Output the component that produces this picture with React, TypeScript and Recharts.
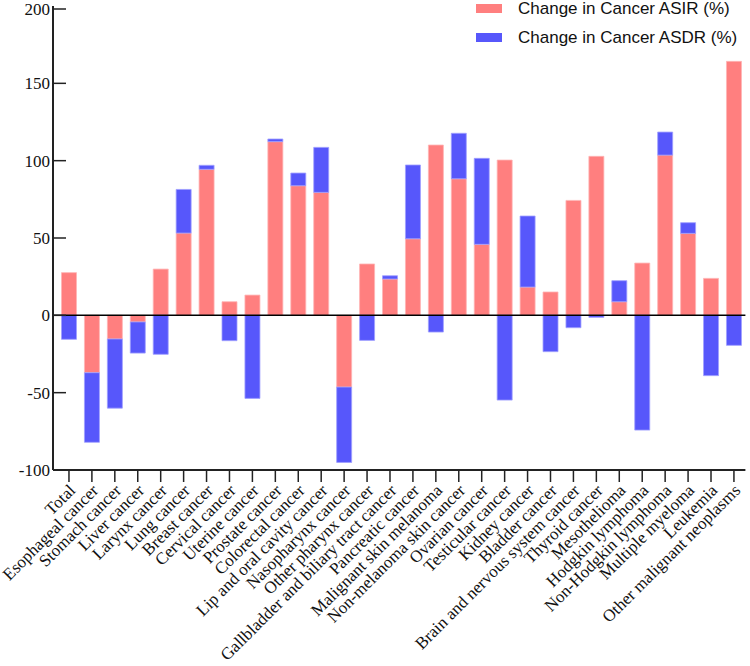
import { BarChart, Bar, XAxis, YAxis, ReferenceLine } from "recharts";

const categories = [
  "Total",
  "Esophageal cancer",
  "Stomach cancer",
  "Liver cancer",
  "Larynx cancer",
  "Lung cancer",
  "Breast cancer",
  "Cervical cancer",
  "Uterine cancer",
  "Prostate cancer",
  "Colorectal cancer",
  "Lip and oral cavity cancer",
  "Nasopharynx cancer",
  "Other pharynx cancer",
  "Gallbladder and biliary tract cancer",
  "Pancreatic cancer",
  "Malignant skin melanoma",
  "Non-melanoma skin cancer",
  "Ovarian cancer",
  "Testicular cancer",
  "Kidney cancer",
  "Bladder cancer",
  "Brain and nervous system cancer",
  "Thyroid cancer",
  "Mesothelioma",
  "Hodgkin lymphoma",
  "Non-Hodgkin lymphoma",
  "Multiple myeloma",
  "Leukemia",
  "Other malignant neoplasms",
];

const asir = [
  27.6, -37.1, -15.3, -4.3, 29.9, 53.2, 94.4, 8.8, 13.1, 112.3, 83.8, 79.5, -46.4, 33.2, 23.5,
  49.5, 110.1, 88.3, 45.9, 100.4, 18.3, 15.1, 74.3, 102.8, 8.8, 33.8, 103.6, 53.0, 23.9, 164.2,
];

const asdr = [
  -15.5, -45.0, -44.7, -20.1, -25.2, 28.2, 2.6, -16.4, -53.7, 1.7, 8.2, 29.1, -48.7, -16.2, 2.1,
  47.7, -10.8, 29.4, 55.6, -54.8, 45.9, -23.5, -8.0, -1.3, 13.6, -74.2, 14.9, 6.9, -39.0, -19.4,
];

const yTicks = [-100, -50, 0, 50, 100, 150, 200];

const PINK = "#FF7F7F";
const BLUE = "#5757FB";

const data = categories.map((name, i) => ({ name, asir: asir[i], asdr: asdr[i] }));

const SERIF = "'Liberation Serif', 'Times New Roman', serif";
const SANS = "'Liberation Sans', Arial, sans-serif";

function YTick(props: any) {
  const { x, y, payload } = props;
  return (
    <g>
      <line x1={x + 3} x2={x + 16} y1={y} y2={y} stroke="#222" strokeWidth={1.5} />
      <text x={x} y={y} dy="0.35em" textAnchor="end" fontFamily={SERIF} fontSize={17} fill="#111">
        {payload.value}
      </text>
    </g>
  );
}

function XTick(props: any) {
  const { x, y, payload } = props;
  const ax = x + 2;
  return (
    <text
      x={ax}
      y={y}
      dy="0.45em"
      textAnchor="end"
      fontFamily={SERIF}
      fontSize={17}
      fill="#111"
      transform={`rotate(-45, ${ax}, ${y})`}
    >
      {payload.value}
    </text>
  );
}

function LegendBox() {
  const items = [
    { label: "Change in Cancer ASIR (%)", color: PINK, top: 0 },
    { label: "Change in Cancer ASDR (%)", color: BLUE, top: 29 },
  ];
  return (
    <div style={{ fontFamily: SANS, fontSize: 17, lineHeight: "17px", color: "#111", whiteSpace: "nowrap" }}>
      {items.map((it) => (
        <div
          key={it.label}
          style={{ position: "absolute", top: it.top, left: 476, display: "flex", alignItems: "center", height: 17 }}
        >
          <span style={{ width: 26, height: 9, background: it.color, marginRight: 16 }} />
          <span>{it.label}</span>
        </div>
      ))}
    </div>
  );
}

export default function App() {
  return (
    <div style={{ position: "absolute", left: 0, top: 0, width: 750, height: 666, background: "#fff" }}>
      <BarChart
        width={750}
        height={666}
        data={data}
        stackOffset="sign"
        margin={{ top: 6, right: 4.6, left: 0, bottom: 0 }}
        barSize={15}
      >
        <XAxis
          dataKey="name"
          interval={0}
          height={196}
          padding={{ left: 4.5, right: 0 }}
          axisLine={{ stroke: "#222", strokeWidth: 2 }}
          tickLine={{ stroke: "#222", strokeWidth: 1.5 }}
          tickSize={12}
          tickMargin={4}
          tick={<XTick />}
        />
        <YAxis
          type="number"
          domain={[-100, 200]}
          ticks={yTicks}
          width={53}
          axisLine={{ stroke: "#222", strokeWidth: 2 }}
          tickLine={false}
          tickSize={0}
          tickMargin={3}
          tick={<YTick />}
        />
        <ReferenceLine y={0} stroke="#000" strokeWidth={1.5} />
        <Bar dataKey="asir" stackId="a" fill={PINK} stroke="#FFB5B5" strokeWidth={0.8} isAnimationActive={false} />
        <Bar dataKey="asdr" stackId="a" fill={BLUE} stroke="#A0A0FF" strokeWidth={0.8} isAnimationActive={false} />
      </BarChart>
      <LegendBox />
    </div>
  );
}
